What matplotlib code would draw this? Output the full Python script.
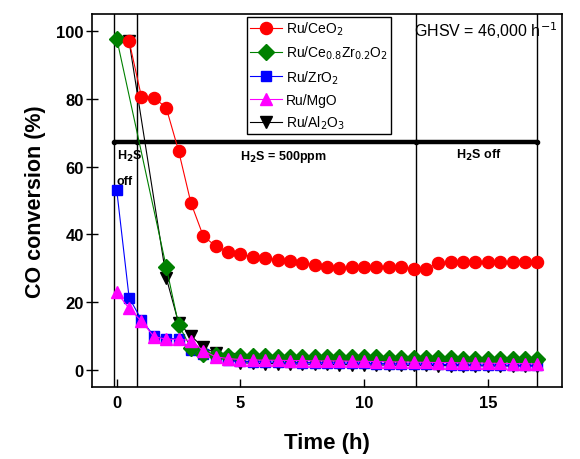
import matplotlib
matplotlib.use("Agg")
import matplotlib.pyplot as plt
import numpy as np

plt.rcParams['font.family'] = ['Liberation Sans', 'DejaVu Sans']

# ---- data ----
t_ce = [0.5, 1.0, 1.5, 2.0, 2.5, 3.0, 3.5, 4.0, 4.5, 5.0, 5.5, 6.0, 6.5, 7.0, 7.5, 8.0,
        8.5, 9.0, 9.5, 10.0, 10.5, 11.0, 11.5, 12.0, 12.5, 13.0, 13.5, 14.0, 14.5, 15.0,
        15.5, 16.0, 16.5, 17.0]
ceo2 = [97.1, 80.6, 80.4, 77.4, 64.7, 49.3, 39.5, 36.6, 34.9, 34.2, 33.5, 33.0, 32.6, 32.1,
        31.7, 31.0, 30.5, 30.0, 30.3, 30.3, 30.3, 30.3, 30.4, 29.9, 29.8, 31.6, 31.8, 31.9,
        31.9, 31.9, 31.8, 31.9, 32.0, 32.0]

t_cz = [0.0, 2.0, 2.5, 3.0, 3.5, 4.0, 4.5, 5.0, 5.5, 6.0, 6.5, 7.0, 7.5, 8.0, 8.5, 9.0,
        9.5, 10.0, 10.5, 11.0, 11.5, 12.0, 12.5, 13.0, 13.5, 14.0, 14.5, 15.0, 15.5, 16.0,
        16.5, 17.0]
cezro2 = [97.8, 30.5, 13.4, 6.5, 4.8, 4.3, 4.2, 4.2, 4.1, 4.1, 4.0, 4.0, 4.0, 3.9, 3.9, 3.9,
          3.8, 3.8, 3.8, 3.7, 3.6, 3.6, 3.5, 3.5, 3.5, 3.4, 3.4, 3.3, 3.3, 3.3, 3.2, 3.2]

t_all = [0.0, 0.5, 1.0, 1.5, 2.0, 2.5, 3.0, 3.5, 4.0, 4.5, 5.0, 5.5, 6.0, 6.5, 7.0, 7.5, 8.0,
         8.5, 9.0, 9.5, 10.0, 10.5, 11.0, 11.5, 12.0, 12.5, 13.0, 13.5, 14.0, 14.5, 15.0,
         15.5, 16.0, 16.5, 17.0]
zro2 = [53.1, 21.4, 14.8, 10.1, 9.3, 9.3, 5.9, 4.7, 3.9, 2.9, 2.6, 2.5, 2.4, 2.3, 2.3, 2.2,
        2.2, 2.1, 2.1, 2.0, 2.0, 1.9, 1.9, 1.8, 1.8, 1.7, 1.7, 1.6, 1.6, 1.5, 1.5, 1.5, 1.4,
        1.4, 1.4]
mgo = [22.9, 18.2, 14.4, 9.9, 9.1, 9.1, 8.7, 5.7, 3.9, 3.4, 3.1, 3.0, 2.9, 2.9, 2.8, 2.8,
       2.7, 2.7, 2.7, 2.6, 2.6, 2.5, 2.4, 2.4, 2.3, 2.3, 2.2, 2.2, 2.1, 2.1, 2.0, 2.0, 1.9,
       1.9, 1.8]

t_al = [0.5, 2.0, 2.5, 3.0, 3.5, 4.0, 4.5, 5.0, 5.5, 6.0, 6.5, 7.0, 7.5, 8.0, 8.5, 9.0,
        9.5, 10.0, 10.5, 11.0, 11.5, 12.0, 12.5, 13.0, 13.5, 14.0, 14.5, 15.0, 15.5, 16.0,
        16.5, 17.0]
al2o3 = [97.0, 27.3, 13.9, 10.1, 6.7, 5.0, 3.2, 2.2, 2.0, 1.9, 1.9, 1.8, 1.8, 1.7, 1.7, 1.6,
         1.6, 1.5, 1.5, 1.5, 1.4, 1.4, 1.4, 1.3, 1.3, 1.3, 1.3, 1.2, 1.2, 1.2, 1.2, 1.2]

boundaries = [-0.1, 0.8, 12.1, 17.0]
h2s_level = 67.3

fig = plt.figure(figsize=(5.8, 4.6), dpi=100)
ax = fig.add_axes([0.1586, 0.1565, 0.8104, 0.8105])

l_al, = ax.plot(t_al, al2o3, color='black', marker='v', ms=9, lw=0.8, zorder=3,
                label='Ru/Al$_2$O$_3$')
l_zr, = ax.plot(t_all, zro2, color='#0000ff', marker='s', ms=7.5, lw=0.8, zorder=4,
                label='Ru/ZrO$_2$')
l_cz, = ax.plot(t_cz, cezro2, color='#008000', marker='D', ms=8, lw=0.8, zorder=5,
                label='Ru/Ce$_{0.8}$Zr$_{0.2}$O$_2$')
l_mg, = ax.plot(t_all, mgo, color='#ff00ff', marker='^', ms=9, lw=0.8, zorder=6,
                label='Ru/MgO')
l_ce, = ax.plot(t_ce, ceo2, color='#ff0000', marker='o', ms=8.7, lw=0.8, zorder=7,
                label='Ru/CeO$_2$')

for b in boundaries:
    ax.axvline(b, color='black', lw=1.0, zorder=2)

ax.plot([boundaries[0], boundaries[-1]], [h2s_level, h2s_level], color='black', lw=3.2,
        solid_capstyle='butt', zorder=2)
ax.plot(boundaries, [h2s_level] * 4, ls='none', marker='o', ms=3, color='black', zorder=2)

tkw = dict(fontsize=9, va='center', ha='left', fontweight='bold')
ax.text(0.0, 63.3, 'H$_\\mathbf{2}$S', **tkw)
ax.text(0.0, 55.7, 'off', **tkw)
ax.text(5.0, 63.3, 'H$_\\mathbf{2}$S = 500ppm', **tkw)
ax.text(13.7, 63.5, 'H$_\\mathbf{2}$S off', **tkw)
ax.text(12.0, 100.4, 'GHSV = 46,000 h$^{-1}$', fontsize=11.5, va='center', ha='left')

ax.set_xlim(-1.0, 18.0)
ax.set_ylim(-5, 105)
ax.set_xticks([0, 5, 10, 15])
ax.set_yticks([0, 20, 40, 60, 80, 100])
ax.tick_params(axis='x', direction='in', length=5.5, width=1, labelsize=12, pad=6)
ax.tick_params(axis='y', direction='inout', length=8, width=1, labelsize=12, pad=2)
for lab in ax.get_xticklabels() + ax.get_yticklabels():
    lab.set_fontweight('bold')
for sp in ax.spines.values():
    sp.set_linewidth(1.2)

ax.set_xlabel('Time (h)', fontsize=16, fontweight='bold')
ax.set_ylabel('CO conversion (%)', fontsize=15.5, fontweight='bold')
ax.xaxis.set_label_coords(0.5, -0.12)
ax.yaxis.set_label_coords(-0.097, 0.5)

leg = ax.legend(handles=[l_ce, l_cz, l_zr, l_mg, l_al], loc='upper left',
                bbox_to_anchor=(0.33, 0.993), fontsize=10, frameon=True, fancybox=False,
                edgecolor='black', framealpha=1, borderpad=0.2, labelspacing=0.5,
                handlelength=2.3, handletextpad=0.3, borderaxespad=0)
leg.get_frame().set_linewidth(1.0)
leg.set_zorder(10)

fig.savefig('out.png', dpi=100)
